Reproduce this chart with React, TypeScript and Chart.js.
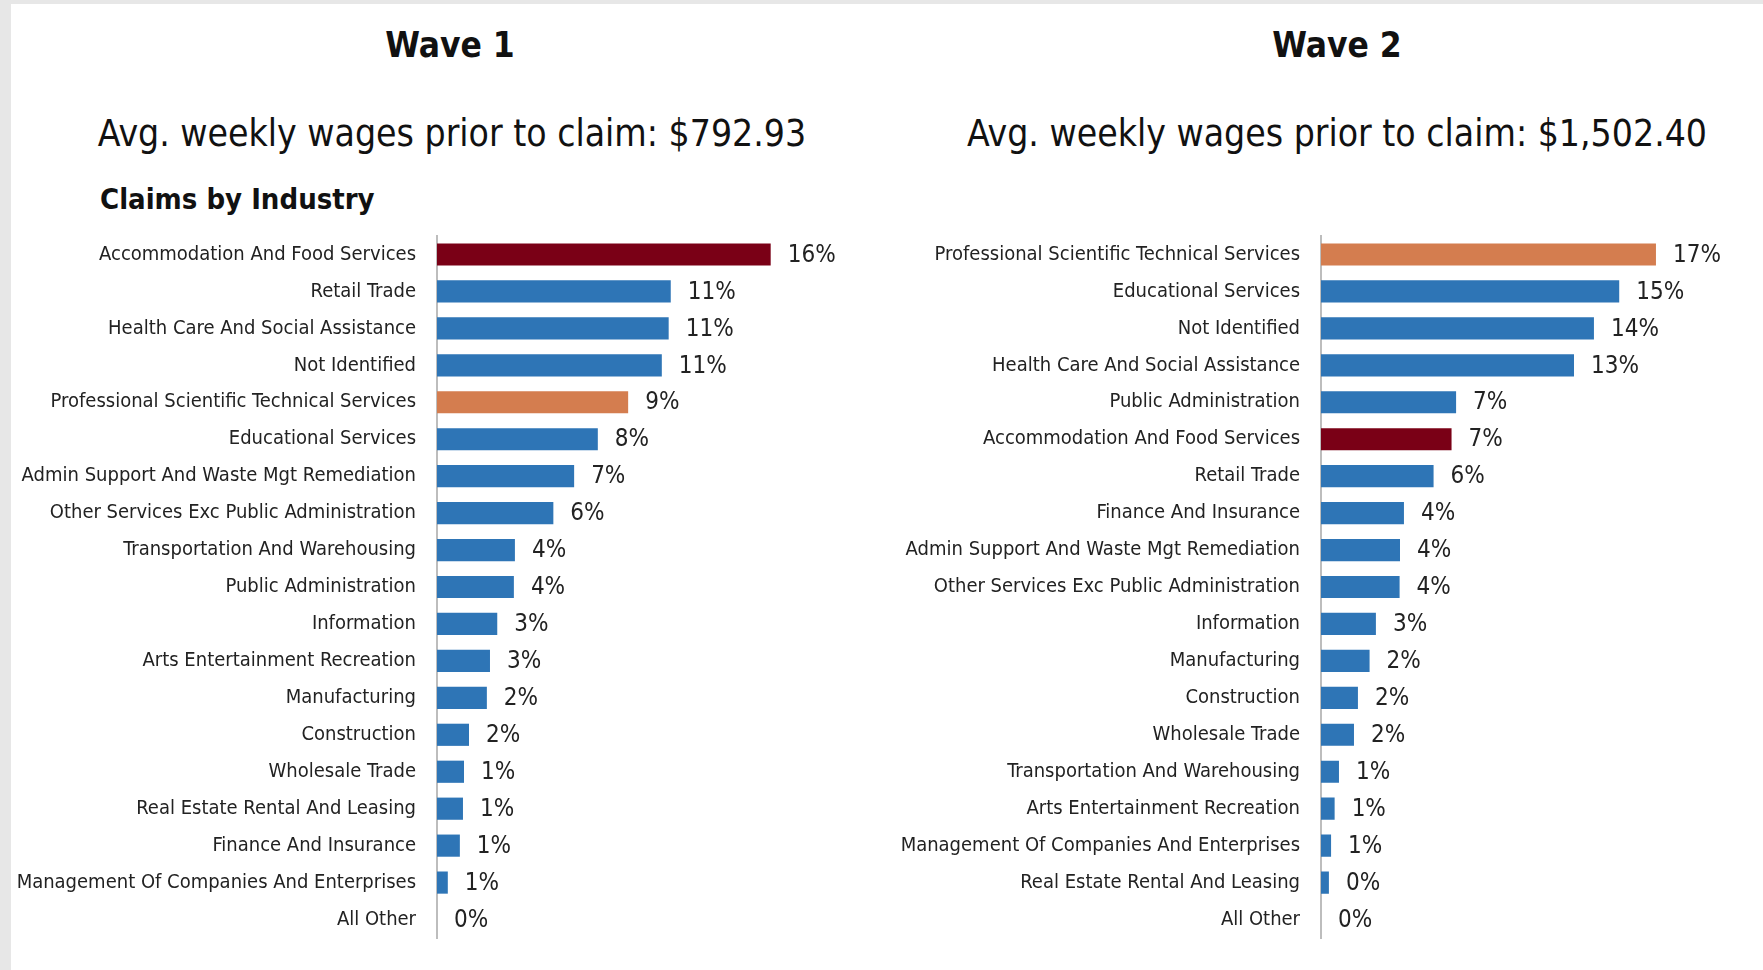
import React, { useEffect, useRef } from "react";
import { Chart, registerables } from "chart.js";

Chart.register(...registerables);

const FONT = '"DejaVu Sans Condensed", "Liberation Sans", sans-serif';

const waveTitles = ["Wave 1", "Wave 2"];
const wageTexts = [
  "Avg. weekly wages prior to claim: $792.93",
  "Avg. weekly wages prior to claim: $1,502.40",
];
const sectionTitle = "Claims by Industry";

const wave1Industries = [
  "Accommodation And Food Services",
  "Retail Trade",
  "Health Care And Social Assistance",
  "Not Identified",
  "Professional Scientific Technical Services",
  "Educational Services",
  "Admin Support And Waste Mgt Remediation",
  "Other Services Exc Public Administration",
  "Transportation And Warehousing",
  "Public Administration",
  "Information",
  "Arts Entertainment Recreation",
  "Manufacturing",
  "Construction",
  "Wholesale Trade",
  "Real Estate Rental And Leasing",
  "Finance And Insurance",
  "Management Of Companies And Enterprises",
  "All Other",
];
const wave1Shares = [
  16.06, 11.25, 11.15, 10.82, 9.2, 7.74, 6.6, 5.6, 3.75, 3.7, 2.9, 2.55, 2.4,
  1.54, 1.3, 1.25, 1.1, 0.52, 0,
];

const wave2Industries = [
  "Professional Scientific Technical Services",
  "Educational Services",
  "Not Identified",
  "Health Care And Social Assistance",
  "Public Administration",
  "Accommodation And Food Services",
  "Retail Trade",
  "Finance And Insurance",
  "Admin Support And Waste Mgt Remediation",
  "Other Services Exc Public Administration",
  "Information",
  "Manufacturing",
  "Construction",
  "Wholesale Trade",
  "Transportation And Warehousing",
  "Arts Entertainment Recreation",
  "Management Of Companies And Enterprises",
  "Real Estate Rental And Leasing",
  "All Other",
];
const wave2Shares = [
  16.96, 15.1, 13.82, 12.81, 6.84, 6.61, 5.7, 4.2, 4.0, 3.98, 2.78, 2.46, 1.87,
  1.67, 0.91, 0.69, 0.51, 0.4, 0,
];

const HIGHLIGHT_RED = "Accommodation And Food Services";
const HIGHLIGHT_ORANGE = "Professional Scientific Technical Services";
const BLUE = "#2e75b6";
const RED = "#7a0016";
const ORANGE = "#d47d4f";

const colorFor = (name: string) =>
  name === HIGHLIGHT_RED ? RED : name === HIGHLIGHT_ORANGE ? ORANGE : BLUE;

const valueLabels = {
  id: "valueLabels",
  afterDatasetsDraw(chart: any) {
    const { ctx } = chart;
    const meta = chart.getDatasetMeta(0);
    const data = chart.data.datasets[0].data as number[];
    ctx.save();
    ctx.font = `24px ${FONT}`;
    ctx.fillStyle = "#222222";
    ctx.textAlign = "left";
    ctx.textBaseline = "middle";
    meta.data.forEach((bar: any, i: number) => {
      ctx.fillText(`${Math.round(data[i])}%`, bar.x + 17, bar.y + 1);
    });
    ctx.restore();
  },
};

type WaveProps = {
  labels: string[];
  values: number[];
  left: number;
  width: number;
  axisWidth: number;
  padRight: number;
};

function WaveChart({ labels, values, left, width, axisWidth, padRight }: WaveProps) {
  const ref = useRef<HTMLCanvasElement | null>(null);
  useEffect(() => {
    if (!ref.current) return;
    const chart = new Chart(ref.current, {
      type: "bar",
      data: {
        labels,
        datasets: [
          {
            data: values,
            backgroundColor: labels.map(colorFor),
            borderWidth: 0,
            barPercentage: 0.6,
            categoryPercentage: 1,
          },
        ],
      },
      options: {
        indexAxis: "y",
        responsive: false,
        animation: false,
        devicePixelRatio: 1,
        layout: { padding: { left: 0, right: padRight, top: 10, bottom: 10 } },
        plugins: {
          legend: { display: false },
          tooltip: { enabled: false },
          title: { display: false },
        },
        scales: {
          x: { display: false, min: 0, max: 18 },
          y: {
            grid: { display: false, drawTicks: false },
            border: { display: true, color: "#bdbdbd", width: 2 },
            ticks: {
              autoSkip: false,
              padding: 21,
              color: "#222222",
              font: { family: FONT, size: 20 },
            },
            afterFit: (scale: any) => {
              scale.width = axisWidth;
              scale.paddingTop = 0;
              scale.paddingBottom = 0;
            },
          },
        },
      },
      plugins: [valueLabels],
    });
    return () => chart.destroy();
  }, []);
  return (
    <canvas
      ref={ref}
      width={width}
      height={722}
      style={{ position: "absolute", left, top: 226, width, height: 722 }}
    />
  );
}

const titleStyle = (center: number, top: number, size: number, bold: boolean): React.CSSProperties => ({
  position: "absolute",
  left: center - 450,
  width: 900,
  top,
  textAlign: "center",
  fontFamily: FONT,
  fontSize: size,
  lineHeight: `${size}px`,
  fontWeight: bold ? 700 : 400,
  color: "#111",
  whiteSpace: "nowrap",
});

export default function App() {
  return (
    <div
      style={{
        position: "absolute",
        left: 0,
        top: 0,
        width: 1763,
        height: 970,
        background: "#e7e7e7",
        overflow: "hidden",
      }}
    >
      <div
        style={{
          position: "absolute",
          left: 11,
          top: 4,
          right: 0,
          bottom: 0,
          background: "#ffffff",
        }}
      />
      <div style={titleStyle(450, 28, 35, true)}>{waveTitles[0]}</div>
      <div style={titleStyle(1337, 28, 35, true)}>{waveTitles[1]}</div>
      <div style={titleStyle(452, 115, 37, false)}>{wageTexts[0]}</div>
      <div style={titleStyle(1337, 115, 37, false)}>{wageTexts[1]}</div>
      <div
        style={{
          position: "absolute",
          left: 100,
          top: 185,
          fontFamily: FONT,
          fontSize: 29,
          lineHeight: "29px",
          fontWeight: 700,
          color: "#111",
          whiteSpace: "nowrap",
        }}
      >
        {sectionTitle}
      </div>
      <WaveChart
        labels={wave1Industries}
        values={wave1Shares}
        left={0}
        width={860}
        axisWidth={437}
        padRight={49}
      />
      <WaveChart
        labels={wave2Industries}
        values={wave2Shares}
        left={880}
        width={880}
        axisWidth={441}
        padRight={83.5}
      />
    </div>
  );
}
